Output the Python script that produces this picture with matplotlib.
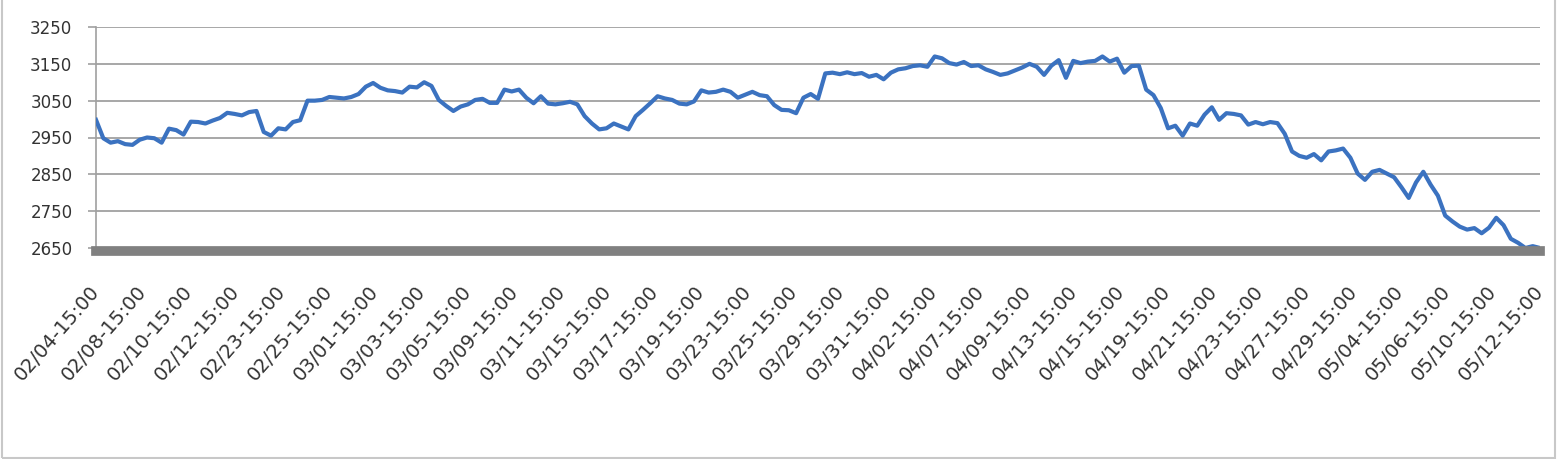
import numpy as np
import matplotlib.pyplot as plt
from matplotlib.patches import Rectangle

# values, evenly spaced along the category axis
prices = [
    2998, 2948, 2936, 2940, 2932, 2930, 2944, 2950, 2948, 2936,
    2974, 2970, 2958, 2993, 2992, 2988, 2996, 3003, 3017, 3014,
    3010, 3019, 3022, 2965, 2955, 2975, 2972, 2992, 2997, 3050,
    3050, 3052, 3060, 3058, 3056, 3060, 3068, 3088, 3098, 3085,
    3078, 3076, 3072, 3088, 3086, 3100, 3090, 3052, 3036, 3022,
    3034, 3040, 3052, 3055, 3044, 3044, 3080, 3075, 3080, 3058,
    3043, 3062, 3042, 3040, 3043, 3047, 3040, 3008, 2988, 2972,
    2975, 2988, 2980, 2972, 3008, 3025, 3043, 3062, 3056, 3052,
    3042, 3040, 3048, 3078, 3072, 3074, 3080, 3074, 3058, 3066,
    3074, 3065, 3062, 3038, 3025, 3024, 3016, 3058, 3068, 3055,
    3124, 3126, 3122, 3127, 3122, 3125, 3115, 3120, 3108, 3126,
    3135, 3138, 3144, 3146, 3142, 3170, 3165, 3152, 3148, 3155,
    3144, 3146, 3135, 3128, 3120, 3124, 3132, 3140, 3150, 3142,
    3120, 3145, 3160, 3112, 3158, 3152, 3156, 3158, 3170, 3156,
    3164, 3126, 3144, 3145, 3080, 3065, 3030, 2975, 2982, 2955,
    2988, 2982, 3012, 3032, 2998, 3016, 3014, 3010, 2985, 2992,
    2986, 2992, 2989, 2960, 2912, 2900, 2895, 2905, 2888, 2912,
    2915, 2920, 2895, 2852, 2835, 2857, 2862, 2852, 2842, 2815,
    2786, 2828, 2857, 2822, 2792, 2738, 2722, 2708, 2700, 2704,
    2690, 2705, 2732, 2712, 2675, 2664, 2650, 2655, 2650,
]

tick_labels = [
    "02/04-15:00", "02/08-15:00", "02/10-15:00", "02/12-15:00",
    "02/23-15:00", "02/25-15:00", "03/01-15:00", "03/03-15:00",
    "03/05-15:00", "03/09-15:00", "03/11-15:00", "03/15-15:00",
    "03/17-15:00", "03/19-15:00", "03/23-15:00", "03/25-15:00",
    "03/29-15:00", "03/31-15:00", "04/02-15:00", "04/07-15:00",
    "04/09-15:00", "04/13-15:00", "04/15-15:00", "04/19-15:00",
    "04/21-15:00", "04/23-15:00", "04/27-15:00", "04/29-15:00",
    "05/04-15:00", "05/06-15:00", "05/10-15:00", "05/12-15:00",
]

y_ticks = [2650, 2750, 2850, 2950, 3050, 3150, 3250]

fig = plt.figure(figsize=(15.57, 4.59), dpi=100)
ax = fig.add_axes([96 / 1557, 1 - 248 / 459, 1444 / 1557, 221 / 459])

# spines first: set_position resets the ticks
for side in ["top", "right"]:
    ax.spines[side].set_visible(False)
ax.spines["left"].set_color("#a0a0a0")
ax.spines["left"].set_linewidth(1.2)
ax.spines["bottom"].set_color("#808080")
ax.spines["bottom"].set_linewidth(7)
ax.spines["bottom"].set_position(("outward", 2))
ax.spines["bottom"].set_zorder(4)

x = np.arange(len(prices))
ax.plot(x, prices, color="#3b72c0", linewidth=3.0, solid_joinstyle="round", zorder=3)

ax.set_xlim(0, len(prices) - 1)
ax.set_ylim(2650, 3250)

ax.set_yticks(y_ticks)
ax.grid(axis="y", color="#a0a0a0", linewidth=1.3)
ax.set_axisbelow(True)

ax.tick_params(axis="y", length=6, width=1.2, color="#a0a0a0", pad=11,
               labelsize=12, labelcolor="#333333")
ax.tick_params(axis="x", length=0, pad=27, labelsize=14, labelcolor="#333333",
               labelrotation=49)

ax.set_xticks(np.linspace(0, len(prices) - 1, len(tick_labels)))
ax.set_xticklabels(tick_labels)
for lbl in ax.get_xticklabels():
    lbl.set_ha("right")
    lbl.set_va("center")
    lbl.set_rotation_mode("anchor")

# light frame around the chart image
fig.patches.append(Rectangle((0.001, 0.003), 0.998, 1.2, transform=fig.transFigure,
                             fill=False, edgecolor="#c8c8c8", linewidth=1.5))

fig.savefig("out.png", dpi=100, facecolor="white")
